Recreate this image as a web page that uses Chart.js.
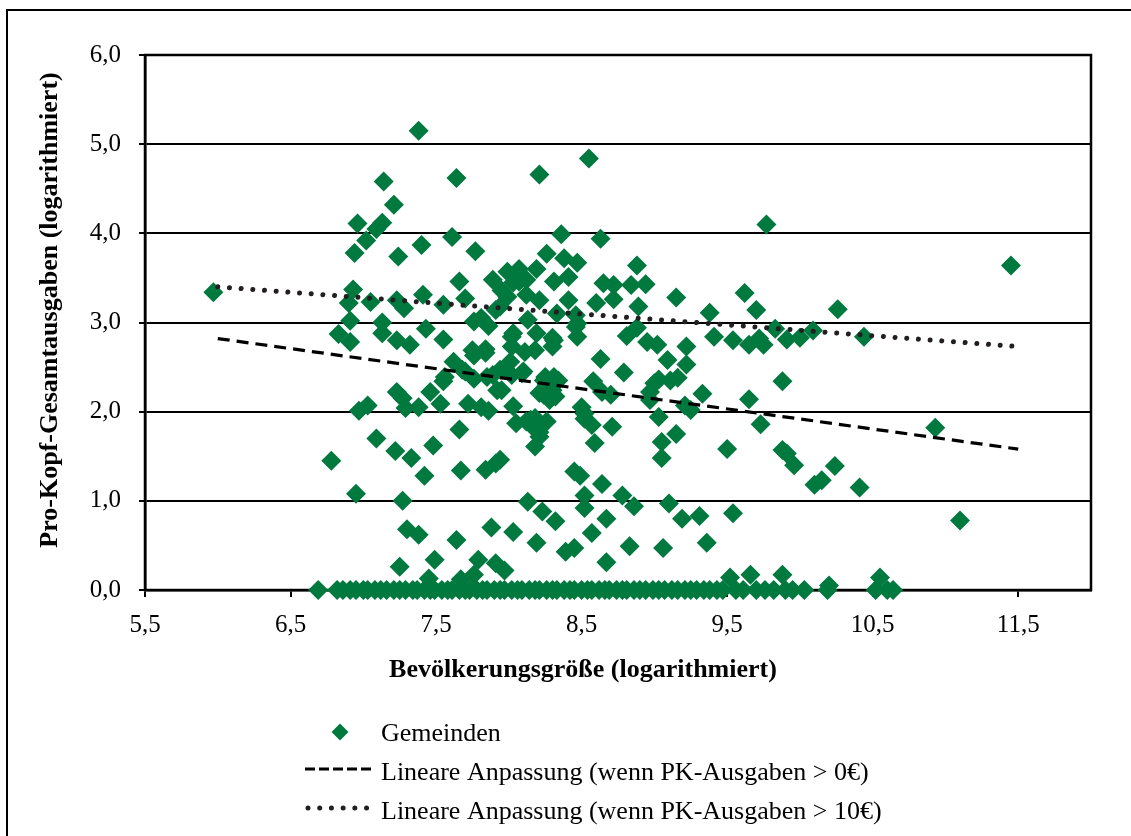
<!DOCTYPE html>
<html lang="de">
<head>
<meta charset="utf-8">
<title>Pro-Kopf-Gesamtausgaben und Bevölkerungsgröße</title>
<script src="https://cdn.jsdelivr.net/npm/chart.js@4/dist/chart.umd.min.js"></script>
<style>
    html, body { margin: 0; padding: 0; background: #fff; overflow: hidden; }
    #rahmen { position: absolute; left: 6px; top: 9px; width: 1200px; height: 900px; border: 2px solid #000; }
    #chart { position: absolute; left: 0; top: 0; }
</style>
</head>
<body>
<div id="rahmen"></div>
<canvas id="chart" width="1131" height="836"></canvas>
<script>
const GRUEN = "#00793f";
const SCHRIFT = '"Liberation Serif", "Times New Roman", serif';

// Gemeinden mit Ausgaben > 0: [Bevölkerung (log), PK-Ausgaben (log)]
var gemeinden = [
    [7.38, 5.15], [8.55, 4.84], [8.21, 4.66], [7.64, 4.62], [7.14, 4.58], [7.21, 4.32],
    [6.96, 4.11], [7.13, 4.12], [7.09, 4.05], [9.77, 4.10], [8.36, 3.99], [7.61, 3.96], [8.63, 3.94],
    [7.02, 3.92], [7.40, 3.87], [6.94, 3.78], [7.77, 3.80], [7.24, 3.74], [8.26, 3.77], [8.38, 3.72],
    [8.47, 3.67], [8.88, 3.64], [11.45, 3.64],
    [7.99, 3.57], [8.07, 3.60], [8.19, 3.60], [8.07, 3.46], [8.12, 3.48], [8.03, 3.45], [8.31, 3.46],
    [8.41, 3.51], [8.65, 3.44], [8.72, 3.42], [8.84, 3.42], [8.94, 3.43], [7.66, 3.46], [7.89, 3.48],
    [6.93, 3.37], [5.97, 3.34], [7.41, 3.31], [7.95, 3.36], [7.99, 3.29], [8.12, 3.31], [8.21, 3.25],
    [8.41, 3.25], [8.60, 3.22], [8.72, 3.26], [8.89, 3.18], [9.15, 3.28], [9.62, 3.33], [9.70, 3.14],
    [10.26, 3.15], [9.38, 3.11], [7.94, 3.18], [8.33, 3.10], [8.46, 3.08], [7.23, 3.25], [7.28, 3.16],
    [7.05, 3.23], [6.90, 3.22], [7.55, 3.20], [7.70, 3.27], [7.91, 3.14],
    [6.91, 3.02], [7.13, 3.00], [7.76, 3.01], [7.81, 3.05], [7.86, 2.96], [8.13, 3.03], [8.46, 2.95],
    [8.47, 2.99], [8.88, 2.94], [9.83, 2.93], [10.09, 2.91], [7.43, 2.93],
    [6.83, 2.87], [6.91, 2.78], [7.13, 2.88], [7.23, 2.80], [7.32, 2.75], [7.55, 2.81], [8.03, 2.88],
    [8.19, 2.88], [8.30, 2.83], [8.47, 2.84], [8.81, 2.85], [8.95, 2.78], [9.02, 2.75], [9.22, 2.73],
    [9.41, 2.84], [9.54, 2.80], [9.65, 2.75], [9.72, 2.82], [9.75, 2.75], [9.91, 2.81], [10.00, 2.83],
    [10.44, 2.84], [8.02, 2.84], [8.31, 2.80], [7.75, 2.69], [7.84, 2.70],
    [8.02, 2.73], [8.11, 2.67], [8.18, 2.69], [8.30, 2.73], [7.76, 2.63], [7.84, 2.66], [7.62, 2.56],
    [8.01, 2.56], [9.09, 2.58], [8.63, 2.59], [9.22, 2.53],
    [7.70, 2.45], [7.56, 2.39], [7.68, 2.47], [7.76, 2.37], [7.85, 2.39], [7.89, 2.41], [8.02, 2.41],
    [8.09, 2.43], [8.10, 2.45], [7.94, 2.47], [8.25, 2.39], [8.24, 2.35], [8.31, 2.39], [8.34, 2.35],
    [8.26, 2.30], [8.79, 2.44], [8.58, 2.34], [9.16, 2.38], [9.03, 2.36], [9.11, 2.35], [9.00, 2.32],
    [9.88, 2.34], [7.55, 2.34],
    [7.92, 2.24], [7.95, 2.24], [7.46, 2.22], [7.23, 2.22], [7.27, 2.15], [8.21, 2.21], [8.30, 2.24],
    [8.24, 2.19], [8.32, 2.17], [8.28, 2.13], [8.64, 2.22], [8.70, 2.19], [8.97, 2.22], [8.97, 2.13],
    [9.33, 2.20], [9.65, 2.14],
    [7.29, 2.04], [7.38, 2.05], [7.53, 2.09], [7.72, 2.09], [7.81, 2.05], [7.86, 2.01], [6.97, 2.01],
    [7.03, 2.07], [8.03, 2.06], [8.50, 2.05], [8.52, 1.98], [9.25, 2.02], [9.21, 2.07], [9.03, 1.94],
    [8.05, 1.87], [8.12, 1.89], [8.18, 1.93], [8.26, 1.89], [8.15, 1.91], [8.21, 1.77], [8.19, 1.79],
    [8.21, 1.72], [8.18, 1.61], [7.66, 1.80], [8.52, 1.92], [8.57, 1.85], [8.71, 1.83], [8.59, 1.65],
    [9.73, 1.86], [10.93, 1.82], [9.15, 1.75], [9.05, 1.66], [7.09, 1.70],
    [7.48, 1.62], [7.22, 1.56], [7.33, 1.48], [6.78, 1.45], [9.05, 1.48], [9.50, 1.58], [9.88, 1.57],
    [9.91, 1.53], [7.94, 1.46], [7.91, 1.42], [9.96, 1.40], [10.24, 1.39],
    [7.42, 1.28], [7.67, 1.34], [7.84, 1.35], [8.45, 1.33], [8.49, 1.28], [8.64, 1.19], [10.15, 1.23],
    [10.10, 1.18], [10.41, 1.15],
    [6.95, 1.08], [7.27, 1.00], [8.13, 0.99], [8.52, 1.06], [8.78, 1.06], [9.10, 0.97], [8.52, 0.92],
    [8.86, 0.94], [8.23, 0.88], [9.54, 0.86], [9.31, 0.83], [9.19, 0.80], [8.67, 0.80], [8.32, 0.77],
    [11.10, 0.78],
    [7.30, 0.68], [7.38, 0.62], [7.64, 0.56], [7.88, 0.70], [8.03, 0.65], [8.57, 0.64], [8.19, 0.53],
    [9.36, 0.53], [9.06, 0.47], [8.83, 0.49], [8.45, 0.47], [8.39, 0.43],
    [7.25, 0.26], [7.49, 0.34], [7.79, 0.34], [7.91, 0.30], [7.97, 0.22], [8.67, 0.31],
    [7.67, 0.12], [7.76, 0.17], [7.45, 0.13], [9.52, 0.14], [9.66, 0.17], [9.88, 0.17], [10.55, 0.14],
    [10.20, 0.05]
];

// Gemeinden ohne Ausgaben (log-Wert 0,0): nur Bevölkerung
var ohneAusgaben = [
    6.69, 6.82, 6.86, 6.91, 6.95, 7.00, 7.03, 7.08, 7.12, 7.16, 7.21, 7.25, 7.29, 7.34, 7.37,
    7.42, 7.46, 7.49, 7.54, 7.58, 7.61, 7.66, 7.70, 7.73, 7.78, 7.82, 7.85, 7.90, 7.94, 7.97,
    8.02, 8.06, 8.09, 8.14, 8.18, 8.21, 8.26, 8.30, 8.33, 8.38, 8.42, 8.45, 8.50, 8.54, 8.57,
    8.62, 8.66, 8.69, 8.74, 8.78, 8.81, 8.86, 8.90, 8.94, 8.99, 9.03, 9.07, 9.12, 9.16, 9.21,
    9.25, 9.29, 9.34, 9.38, 9.43, 9.47, 9.56, 9.61, 9.70, 9.76, 9.82, 9.90, 9.95, 10.03, 10.19,
    10.52, 10.60, 10.64
];

// Regressionsgeraden (Endpunkte)
var trendAlleX = [6.0, 11.5];
var trendAlleY = [2.82, 1.58];
var trend10X = [6.0, 11.5];
var trend10Y = [3.40, 2.73];

var serienNamen = [
    "Gemeinden",
    "Lineare Anpassung (wenn PK-Ausgaben > 0€)",
    "Lineare Anpassung (wenn PK-Ausgaben > 10€)"
];
var xTicks = [5.5, 6.5, 7.5, 8.5, 9.5, 10.5, 11.5];
var xTitel = "Bevölkerungsgröße (logarithmiert)";
var yTitel = "Pro-Kopf-Gesamtausgaben (logarithmiert)";


function komma(v) {
    return Number(v).toFixed(1).replace(".", ",");
}

function punkte(xs, ys) {
    return xs.map(function (x, i) { return { x: x, y: ys[i] }; });
}

// Rahmen um die Zeichenfläche
var plotRahmen = {
    id: "plotRahmen",
    beforeDatasetsDraw: function (chart) {
        var a = chart.chartArea;
        var ctx = chart.ctx;
        ctx.save();
        ctx.strokeStyle = "#000";
        ctx.lineWidth = 2.5;
        ctx.strokeRect(a.left, a.top, a.right - a.left, a.bottom - a.top);
        ctx.restore();
    }
};

// Achsentitel (im Original nicht ganz mittig) und Legende untereinander
var beschriftung = {
    id: "beschriftung",
    afterDraw: function (chart) {
        var ctx = chart.ctx;
        var ds = chart.data.datasets;
        var a = chart.chartArea;
        ctx.save();

        ctx.font = "bold 26px " + SCHRIFT;
        ctx.fillStyle = "#000";
        ctx.textAlign = "center";
        ctx.textBaseline = "middle";
        ctx.fillText(xTitel, a.left + 438, a.bottom + 80);
        ctx.save();
        ctx.translate(50, a.top + 255);
        ctx.rotate(-Math.PI / 2);
        ctx.fillText(yTitel, 0, 0);
        ctx.restore();

        var textX = 381;
        var zeilen = [741, 780, 819];
        ctx.font = "26px " + SCHRIFT;
        ctx.textAlign = "left";
        ctx.textBaseline = "alphabetic";

        // Gemeinden: Raute
        ctx.beginPath();
        var cx = 340, cy = zeilen[0] - 9, r = 8.5;
        ctx.moveTo(cx - r, cy);
        ctx.lineTo(cx, cy - r);
        ctx.lineTo(cx + r, cy);
        ctx.lineTo(cx, cy + r);
        ctx.closePath();
        ctx.fillStyle = GRUEN;
        ctx.fill();
        ctx.fillStyle = "#000";
        ctx.fillText(ds[2].label, textX, zeilen[0]);

        // Regressionslinien
        [0, 1].forEach(function (i) {
            var d = ds[i];
            var y = zeilen[i + 1] - 11;
            ctx.beginPath();
            ctx.setLineDash(i == 0 ? [10, 4] : d.borderDash);
            ctx.lineCap = d.borderCapStyle;
            ctx.lineWidth = d.borderWidth;
            ctx.strokeStyle = d.borderColor;
            ctx.moveTo(i == 0 ? 305 : 308, y);
            ctx.lineTo(375, y);
            ctx.stroke();
            ctx.setLineDash([]);
            ctx.fillText(d.label, textX, zeilen[i + 1]);
        });
        ctx.restore();
    }
};

var alleGemeinden = gemeinden.map(function (p) { return { x: p[0], y: p[1] }; })
    .concat(ohneAusgaben.map(function (x) { return { x: x, y: 0 }; }));

window.onload = function () {
    new Chart(document.getElementById("chart"), {
        type: "scatter",
        data: {
            datasets: [{
                label: serienNamen[1],
                data: punkte(trendAlleX, trendAlleY),
                type: "line",
                showLine: true,
                pointRadius: 0,
                borderColor: "#000",
                borderWidth: 3.2,
                borderDash: [12, 7],
                borderCapStyle: "butt",
                fill: false,
                order: 0,
                clip: false
            }, {
                label: serienNamen[2],
                data: punkte(trend10X, trend10Y),
                type: "line",
                showLine: true,
                pointRadius: 0,
                borderColor: "#231f20",
                borderWidth: 5,
                borderDash: [0.01, 11.7],
                borderCapStyle: "round",
                fill: false,
                order: 0,
                clip: false
            }, {
                label: serienNamen[0],
                data: alleGemeinden,
                pointStyle: "rectRot",
                pointRadius: 10,
                pointHoverRadius: 10,
                borderWidth: 0,
                backgroundColor: GRUEN,
                borderColor: GRUEN,
                order: 1,
                clip: false
            }]
        },
        options: {
            responsive: false,
            animation: false,
            events: [],
            layout: { padding: { left: 8, top: 55, right: 40, bottom: 136 } },
            plugins: {
                legend: { display: false },
                tooltip: { enabled: false }
            },
            scales: {
                x: {
                    type: "linear",
                    min: 5.5,
                    max: 12,
                    afterBuildTicks: function (scale) {
                        scale.ticks = xTicks.map(function (v) { return { value: v }; });
                    },
                    afterFit: function (scale) { scale.height = 110; },
                    ticks: {
                        color: "#000",
                        padding: 13,
                        maxRotation: 0,
                        autoSkip: false,
                        font: { family: SCHRIFT, size: 25 },
                        callback: komma
                    },
                    grid: {
                        drawOnChartArea: false,
                        drawTicks: true,
                        tickLength: 7,
                        color: "#000",
                        lineWidth: 2
                    },
                    border: { color: "#000", width: 2.5 },
                    title: { display: false }
                },
                y: {
                    min: 0,
                    max: 6,
                    afterFit: function (scale) { scale.width = 137; },
                    ticks: {
                        stepSize: 1,
                        color: "#000",
                        padding: 18,
                        font: { family: SCHRIFT, size: 25 },
                        callback: komma
                    },
                    grid: {
                        color: "#000",
                        lineWidth: 2,
                        tickLength: 6
                    },
                    border: { color: "#000", width: 2.5 },
                    title: { display: false }
                }
            }
        },
        plugins: [plotRahmen, beschriftung]
    });
};
</script>
</body>
</html>
